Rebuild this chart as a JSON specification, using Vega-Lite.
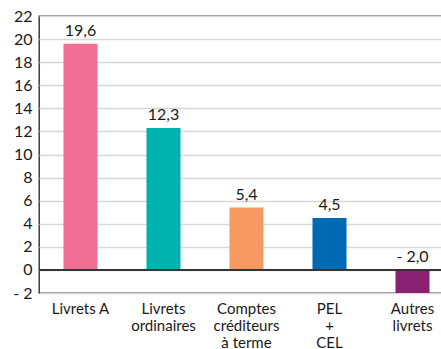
{
  "$schema": "https://vega.github.io/schema/vega-lite/v6.json",
  "autosize": {"type": "none"},
  "width": 415,
  "height": 277,
  "padding": {"left": 39, "top": 16, "right": 0, "bottom": 56},
  "background": "white",
  "config": {
    "locale": {
      "number": {"decimal": ",", "thousands": " ", "grouping": [3], "currency": ["", " €"], "minus": "- "}
    },
    "font": "Lato",
    "view": {"stroke": "#222222", "strokeWidth": 1.3}
  },
  "data": {
    "values": [
      {"cat": "Livrets A", "v": 19.6, "color": "#F07095"},
      {"cat": "Livrets\nordinaires", "v": 12.3, "color": "#00B2AE"},
      {"cat": "Comptes\ncréditeurs\nà terme", "v": 5.4, "color": "#F69A62"},
      {"cat": "PEL\n+\nCEL", "v": 4.5, "color": "#0069B4"},
      {"cat": "Autres\nlivrets", "v": -2.0, "color": "#8A2173"}
    ]
  },
  "encoding": {
    "x": {
      "field": "cat",
      "type": "nominal",
      "sort": null,
      "scale": {"paddingInner": 0.59, "paddingOuter": 0.295},
      "axis": {
        "title": null,
        "labelAngle": 0,
        "labelExpr": "split(datum.label, '\\n')",
        "labelFont": "Lato",
        "labelFontSize": 15,
        "labelColor": "#1a1a1a",
        "labelPadding": 8,
        "labelLineHeight": 17,
        "labelBaseline": "top",
        "labelOverlap": false,
        "ticks": false,
        "domain": false,
        "grid": false
      }
    },
    "y": {
      "field": "v",
      "type": "quantitative",
      "scale": {"domain": [-2, 22], "nice": false, "zero": false},
      "axis": {
        "title": null,
        "values": [-2, 0, 2, 4, 6, 8, 10, 12, 14, 16, 18, 20, 22],
        "format": "d",
        "labelFont": "Lato",
        "labelFontSize": 16,
        "labelColor": "#1a1a1a",
        "labelPadding": 7,
        "labelOverlap": false,
        "labelBound": false,
        "ticks": false,
        "domain": false,
        "gridColor": "#d8d8d8",
        "gridWidth": 1.6
      }
    }
  },
  "layer": [
    {
      "mark": {"type": "bar"},
      "encoding": {
        "y2": {"datum": 0},
        "color": {"field": "color", "type": "nominal", "scale": null}
      }
    },
    {
      "mark": {"type": "rule", "color": "#333333", "strokeWidth": 1.3},
      "encoding": {"y": {"datum": 0}, "x": {"value": 0}, "x2": {"value": 415}}
    },
    {
      "transform": [{"filter": "datum.v >= 0"}],
      "mark": {"type": "text", "baseline": "bottom", "dy": -5, "fontSize": 16, "font": "Lato", "color": "#1a1a1a"},
      "encoding": {
        "text": {"field": "v", "type": "quantitative", "format": ".1f"}
      }
    },
    {
      "transform": [{"filter": "datum.v < 0"}],
      "mark": {"type": "text", "baseline": "bottom", "dy": -5, "fontSize": 16, "font": "Lato", "color": "#1a1a1a"},
      "encoding": {
        "y": {"datum": 0},
        "text": {"field": "v", "type": "quantitative", "format": ".1f"}
      }
    }
  ]
}
